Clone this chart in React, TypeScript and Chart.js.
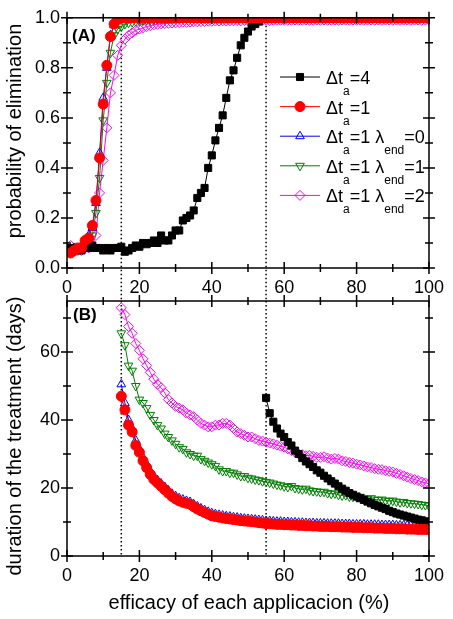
import React, { useEffect, useRef } from 'react';
import { Chart, registerables } from 'chart.js';

Chart.register(...registerables);

const FONT = '"Liberation Sans", Arial, sans-serif';

// ---------- data ----------
const effA = [1,2,3,4,5,6,7,8,9,10,11,12,13,14,15,16,17,18,19,20,21,22,23,24,25,26,27,28,29,30,31,32,33,34,35,36,37,38,39,40,41,42,43,44,45,46,47,48,49,50,51,52,53,54,55,56,57,58,59,60,61,62,63,64,65,66,67,68,69,70,71,72,73,74,75,76,77,78,79,80,81,82,83,84,85,86,87,88,89,90,91,92,93,94,95,96,97,98,99,100];
const effB1 = effA.slice(14); // 15..100
const effB4 = effA.slice(54); // 55..100

// panel A: probability of elimination
const elimDt4 = [
  0.08,0.07,0.08,0.07,0.08,0.08,0.09,0.08,0.08,0.07,
  0.08,0.07,0.08,0.08,0.085,0.065,0.07,0.08,0.09,0.085,
  0.1,0.095,0.1,0.11,0.1,0.13,0.11,0.11,0.13,0.15,
  0.15,0.19,0.2,0.21,0.23,0.28,0.3,0.32,0.4,0.45,
  0.51,0.56,0.61,0.68,0.75,0.79,0.84,0.89,0.92,0.945,
  0.965,0.975,0.985,0.995,1,1,1,1,1,1,
  1,1,1,1,1,1,1,1,1,1,
  1,1,1,1,1,1,1,1,1,1,
  1,1,1,1,1,1,1,1,1,1,
  1,1,1,1,1,1,1,1,1,1,
];
const elimDt1 = [
  0.06,0.07,0.08,0.08,0.11,0.12,0.17,0.27,0.44,0.655,
  0.81,0.925,0.975,0.995,1,1,1,1,1,1,
  1,1,1,1,1,1,1,1,1,1,
  1,1,1,1,1,1,1,1,1,1,
  1,1,1,1,1,1,1,1,1,1,
  1,1,1,1,1,1,1,1,1,1,
  1,1,1,1,1,1,1,1,1,1,
  1,1,1,1,1,1,1,1,1,1,
  1,1,1,1,1,1,1,1,1,1,
  1,1,1,1,1,1,1,1,1,1,
];
const elimL0 = [
  0.07,0.08,0.07,0.09,0.1,0.13,0.16,0.26,0.46,0.68,
  0.8,0.93,0.97,0.99,1,1,1,1,1,1,
  1,1,1,1,1,1,1,1,1,1,
  1,1,1,1,1,1,1,1,1,1,
  1,1,1,1,1,1,1,1,1,1,
  1,1,1,1,1,1,1,1,1,1,
  1,1,1,1,1,1,1,1,1,1,
  1,1,1,1,1,1,1,1,1,1,
  1,1,1,1,1,1,1,1,1,1,
  1,1,1,1,1,1,1,1,1,1,
];
const elimL1 = [
  0.08,0.07,0.08,0.08,0.09,0.1,0.13,0.22,0.36,0.59,
  0.74,0.86,0.93,0.955,0.965,0.975,0.98,0.983,0.986,0.988,
  0.99,0.99,0.992,0.993,0.995,0.996,0.997,0.998,0.998,1,
  1,1,1,1,1,1,1,1,1,1,
  1,1,1,1,1,1,1,1,1,1,
  1,1,1,1,1,1,1,1,1,1,
  1,1,1,1,1,1,1,1,1,1,
  1,1,1,1,1,1,1,1,1,1,
  1,1,1,1,1,1,1,1,1,1,
  1,1,1,1,1,1,1,1,1,1,
];
const elimL2 = [
  0.09,0.08,0.07,0.07,0.08,0.08,0.09,0.13,0.3,0.43,
  0.56,0.7,0.77,0.85,0.89,0.915,0.93,0.94,0.95,0.955,
  0.96,0.965,0.968,0.972,0.974,0.976,0.977,0.978,0.979,0.98,
  0.981,0.982,0.982,0.983,0.984,0.984,0.985,0.985,0.986,0.986,
  0.987,0.987,0.988,0.987,0.988,0.988,0.989,0.988,0.989,0.989,
  0.989,0.99,0.989,0.99,0.99,0.989,0.99,0.99,0.99,0.99,
  0.99,0.99,0.991,0.99,0.99,0.991,0.99,0.99,0.991,0.99,
  0.991,0.99,0.99,0.991,0.99,0.991,0.991,0.99,0.991,0.99,
  0.991,0.99,0.991,0.991,0.99,0.991,0.99,0.991,0.991,0.99,
  0.991,0.99,0.991,0.991,0.99,0.991,0.991,0.99,0.991,0.991,
];

// panel B: duration of the treatment (days)
const durDt1 = [
  47,43,38.5,36.5,32.5,30.5,28,26,24,22.5,
  21.5,20.5,19.5,18.5,17.5,16.8,16.2,15.8,15.5,15.2,
  14.5,13.8,13.3,12.8,12.3,11.8,11.6,11.4,11.2,11,
  10.9,10.7,10.6,10.4,10.3,10.2,10.1,10,9.8,9.7,
  9.5,9.5,9.4,9.3,9.3,9.2,9.2,9.1,9.1,9,
  9,8.9,8.9,8.8,8.8,8.7,8.7,8.7,8.6,8.6,
  8.6,8.5,8.5,8.5,8.4,8.4,8.4,8.3,8.3,8.3,
  8.2,8.2,8.2,8.1,8.1,8.1,8.0,8.0,8.0,7.9,
  7.9,7.9,7.8,7.8,7.8,7.7,
];
const durL0 = [
  50.5,45,40,37.5,34,31.5,29,27,25,23.5,
  22.3,21.3,20.3,19.3,18.3,17.6,17,16.6,16.2,15.9,
  15.2,14.6,14,13.5,13,12.6,12.3,12.1,11.9,11.7,
  11.6,11.4,11.3,11.1,11,10.9,10.8,10.7,10.6,10.5,
  10.3,10.3,10.2,10.1,10.1,10,10,9.9,9.9,9.8,
  9.8,9.7,9.7,9.7,9.6,9.6,9.6,9.5,9.5,9.5,
  9.5,9.4,9.4,9.4,9.3,9.3,9.3,9.3,9.2,9.2,
  9.2,9.2,9.1,9.1,9.1,9.1,9.0,9.0,9.0,9.0,
  9.0,8.9,8.9,8.9,8.9,8.8,
];
const durL1 = [
  65.5,62,56,54.5,50,46,45,43.5,41.5,40,
  38.5,37.5,36,35,34,33,32,31.5,30.5,30,
  29.5,29.5,28.5,28,27.5,27,26.5,25.5,25,25,
  24.5,24.5,24,23.5,23.5,23,22.8,22.5,22.3,22,
  21.8,21.6,21.3,21,20.8,20.5,20.3,20.6,20,19.8,
  19.6,19.8,19.3,19.1,19,18.8,18.9,18.5,18.3,18.4,
  18,17.8,17.9,17.5,17.4,17.3,17.4,17,16.8,17,
  16.6,16.5,16.6,16.3,16.2,16.3,16,15.8,15.9,15.6,
  15.5,15.4,15.3,15.1,15,14.8,
];
const durL2 = [
  73,71,67.5,65.5,62.5,60.5,58,56,54,52,
  50.5,49.5,48,46,45,44,43.5,43,42,41.5,
  41,40,39,38.5,38,38,38.5,38.5,39,39,
  38.5,37.5,36.5,36,35.5,35,35,34.5,34,33.8,
  33.5,33.2,33,32.6,32.3,32,31.5,31,30.5,30,
  29.8,29.5,29.6,29.3,29,29,29.2,28.8,28.5,28.7,
  28.5,28,27.8,27.5,27.3,27,26.8,26.5,26.2,26,
  25.7,25.5,25.4,25.1,24.9,24.7,24.3,24,23.6,23.2,
  22.8,22.5,22.2,21.8,21.5,21.3,
];
const durDt4 = [
  46.5,42,39.5,37.5,36,35,33.5,32.5,31,30,
  28.8,27.8,27,26.2,25.2,24.5,23.6,22.8,22,21.3,
  20.5,19.8,19.2,18.5,18,17.5,17,16.5,16,15.5,
  15,14.6,14.2,13.8,13.3,12.9,12.5,12.2,11.9,11.6,
  11.3,11,10.7,10.5,10.2,10,
];

// ticks
const xMajor = [0, 20, 40, 60, 80, 100];
const xMinor = [10, 30, 50, 70, 90];
const probMajor = [0, 0.2, 0.4, 0.6, 0.8, 1.0];
const probMinor = [0.1, 0.3, 0.5, 0.7, 0.9];
const durMajor = [0, 20, 40, 60];
const durMinor = [10, 30, 50, 70];
const guideX = [15, 55];

// series styles
const C_BLACK = '#000000';
const C_RED = '#ff0000';
const C_BLUE = '#0000ff';
const C_GREEN = '#008000';
const C_MAG = '#ff00ff';

type Seg = [string, number];
const legendItems: { color: string; style: string; filled: boolean; rot: number; text: Seg[] }[] = [
  { color: C_BLACK, style: 'rect', filled: true, rot: 0, text: [['Δt', 0], ['a', 1], ['=4', 0]] },
  { color: C_RED, style: 'circle', filled: true, rot: 0, text: [['Δt', 0], ['a', 1], ['=1', 0]] },
  { color: C_BLUE, style: 'triangle', filled: false, rot: 0, text: [['Δt', 0], ['a', 1], ['=1 λ', 0], ['end', 1], ['=0', 0]] },
  { color: C_GREEN, style: 'triangle', filled: false, rot: 180, text: [['Δt', 0], ['a', 1], ['=1 λ', 0], ['end', 1], ['=1', 0]] },
  { color: C_MAG, style: 'rectRot', filled: false, rot: 0, text: [['Δt', 0], ['a', 1], ['=1 λ', 0], ['end', 1], ['=2', 0]] },
];

function series(xs: number[], ys: number[], color: string, style: string, filled: boolean, rot: number, order: number) {
  return {
    data: xs.map((x, i) => ({ x, y: ys[i] })),
    borderColor: color,
    backgroundColor: color,
    borderWidth: 1,
    pointStyle: style,
    pointRadius: 5,
    pointRotation: rot,
    pointBorderColor: color,
    pointBackgroundColor: filled ? color : 'rgba(0,0,0,0)',
    pointBorderWidth: 1,
    tension: 0,
    order,
  };
}

function drawMarker(ctx: CanvasRenderingContext2D, style: string, x: number, y: number, r: number, color: string, filled: boolean, rot: number) {
  ctx.save();
  ctx.beginPath();
  if (style === 'circle') {
    ctx.arc(x, y, r, 0, Math.PI * 2);
  } else if (style === 'rect') {
    const s = r * Math.SQRT1_2;
    ctx.rect(x - s, y - s, 2 * s, 2 * s);
  } else if (style === 'rectRot') {
    ctx.moveTo(x, y - r);
    ctx.lineTo(x + r, y);
    ctx.lineTo(x, y + r);
    ctx.lineTo(x - r, y);
    ctx.closePath();
  } else {
    let a = (rot * Math.PI) / 180;
    ctx.moveTo(x + Math.sin(a) * r, y - Math.cos(a) * r);
    a += (2 * Math.PI) / 3;
    ctx.lineTo(x + Math.sin(a) * r, y - Math.cos(a) * r);
    a += (2 * Math.PI) / 3;
    ctx.lineTo(x + Math.sin(a) * r, y - Math.cos(a) * r);
    ctx.closePath();
  }
  if (filled) {
    ctx.fillStyle = color;
    ctx.fill();
  }
  ctx.strokeStyle = color;
  ctx.lineWidth = 1;
  ctx.stroke();
  ctx.restore();
}

function drawFrame(chart: any, yMajor: number[], yMinor: number[]) {
  const { ctx, chartArea } = chart;
  const { left, right, top, bottom } = chartArea;
  const xs = chart.scales.x;
  const ys = chart.scales.y;
  ctx.save();
  ctx.strokeStyle = '#000';
  ctx.lineWidth = 1.5;
  ctx.strokeRect(left, top, right - left, bottom - top);
  ctx.beginPath();
  const vt = (px: number, len: number) => {
    ctx.moveTo(px, bottom - len); ctx.lineTo(px, bottom + len);
    ctx.moveTo(px, top - len); ctx.lineTo(px, top + len);
  };
  const ht = (py: number, len: number) => {
    ctx.moveTo(left - len, py); ctx.lineTo(left + len, py);
    ctx.moveTo(right - len, py); ctx.lineTo(right + len, py);
  };
  xMajor.forEach((v) => vt(xs.getPixelForValue(v), 6));
  xMinor.forEach((v) => vt(xs.getPixelForValue(v), 4));
  yMajor.forEach((v) => ht(ys.getPixelForValue(v), 6));
  yMinor.forEach((v) => ht(ys.getPixelForValue(v), 4));
  ctx.stroke();
  ctx.restore();
}

function drawGuides(chart: any, y0: number, y1: number) {
  const { ctx } = chart;
  const xs = chart.scales.x;
  ctx.save();
  ctx.strokeStyle = '#000';
  ctx.lineWidth = 1.5;
  ctx.setLineDash([1.5, 2.5]);
  ctx.beginPath();
  guideX.forEach((v) => {
    const px = xs.getPixelForValue(v);
    ctx.moveTo(px, y0);
    ctx.lineTo(px, y1);
  });
  ctx.stroke();
  ctx.restore();
}

function drawYTitle(ctx: CanvasRenderingContext2D, text: string, x: number, cy: number) {
  ctx.save();
  ctx.translate(x, cy);
  ctx.rotate(-Math.PI / 2);
  ctx.font = `20px ${FONT}`;
  ctx.fillStyle = '#000';
  ctx.textAlign = 'center';
  ctx.textBaseline = 'alphabetic';
  ctx.fillText(text, 0, 0);
  ctx.restore();
}

function drawPanelLabel(ctx: CanvasRenderingContext2D, text: string, x: number, y: number) {
  ctx.save();
  ctx.font = `bold 17px ${FONT}`;
  ctx.fillStyle = '#000';
  ctx.textAlign = 'left';
  ctx.textBaseline = 'alphabetic';
  ctx.fillText(text, x, y);
  ctx.restore();
}

function drawLegend(ctx: CanvasRenderingContext2D) {
  const lx0 = 280, lx1 = 320, mx = 300, tx = 326, y0 = 77, gap = 29.6;
  legendItems.forEach((it, i) => {
    const y = y0 + i * gap;
    ctx.save();
    ctx.strokeStyle = it.color;
    ctx.lineWidth = 1;
    ctx.beginPath();
    ctx.moveTo(lx0, y);
    ctx.lineTo(lx1, y);
    ctx.stroke();
    ctx.restore();
    drawMarker(ctx, it.style, mx, y, 5, it.color, it.filled, it.rot);
    let x = tx;
    ctx.save();
    ctx.fillStyle = '#000';
    ctx.textAlign = 'left';
    ctx.textBaseline = 'alphabetic';
    it.text.forEach(([t, sub]) => {
      ctx.font = sub ? `12px ${FONT}` : `18px ${FONT}`;
      ctx.fillText(t, x, sub ? y + 18 : y + 7);
      x += ctx.measureText(t).width;
    });
    ctx.restore();
  });
}

function baseScales(yMin: number, yMax: number, yTicks: number[], xHeight: number, fmt: (v: number) => string) {
  const tickFont = { size: 18, family: FONT };
  return {
    x: {
      type: 'linear',
      min: 0,
      max: 100,
      afterFit: (s: any) => { s.height = xHeight; },
      afterBuildTicks: (s: any) => { s.ticks = xMajor.map((v) => ({ value: v })); },
      grid: { display: false, drawTicks: false },
      border: { display: false },
      ticks: { padding: 9, color: '#000', font: tickFont, maxRotation: 0, autoSkip: false },
    },
    y: {
      type: 'linear',
      min: yMin,
      max: yMax,
      afterFit: (s: any) => { s.width = 67; },
      afterBuildTicks: (s: any) => { s.ticks = yTicks.map((v) => ({ value: v })); },
      grid: { display: false, drawTicks: false },
      border: { display: false },
      ticks: { padding: 7, color: '#000', font: tickFont, autoSkip: false, callback: (v: any) => fmt(Number(v)) },
    },
  };
}

export default function App() {
  const refA = useRef<HTMLCanvasElement>(null);
  const refB = useRef<HTMLCanvasElement>(null);

  useEffect(() => {
    const chartA = new Chart(refA.current as HTMLCanvasElement, {
      type: 'line',
      data: {
        datasets: [
          series(effA, elimDt1, C_RED, 'circle', true, 0, 0),
          series(effA, elimDt4, C_BLACK, 'rect', true, 0, 1),
          series(effA, elimL0, C_BLUE, 'triangle', false, 0, 2),
          series(effA, elimL1, C_GREEN, 'triangle', false, 180, 3),
          series(effA, elimL2, C_MAG, 'rectRot', false, 0, 4),
        ] as any,
      },
      options: {
        animation: false,
        responsive: false,
        maintainAspectRatio: false,
        events: [],
        layout: { padding: { top: 12, right: 20, left: 0, bottom: 0 } },
        plugins: { legend: { display: false }, tooltip: { enabled: false } },
        scales: baseScales(0, 1, probMajor, 33, (v) => v.toFixed(1)) as any,
      },
      plugins: [
        {
          id: 'decorA',
          beforeDatasetsDraw(chart: any) {
            drawGuides(chart, chart.chartArea.top, chart.height);
          },
          afterDraw(chart: any) {
            const ctx = chart.ctx;
            drawFrame(chart, probMajor, probMinor);
            drawPanelLabel(ctx, '(A)', chart.chartArea.left + 5, chart.chartArea.top + 23);
            drawYTitle(ctx, 'probability of elimination', 21, 131);
            drawLegend(ctx);
          },
        },
      ],
    });

    const chartB = new Chart(refB.current as HTMLCanvasElement, {
      type: 'line',
      data: {
        datasets: [
          series(effB1, durDt1, C_RED, 'circle', true, 0, 0),
          series(effB4, durDt4, C_BLACK, 'rect', true, 0, 1),
          series(effB1, durL0, C_BLUE, 'triangle', false, 0, 2),
          series(effB1, durL1, C_GREEN, 'triangle', false, 180, 3),
          series(effB1, durL2, C_MAG, 'rectRot', false, 0, 4),
        ] as any,
      },
      options: {
        animation: false,
        responsive: false,
        maintainAspectRatio: false,
        events: [],
        layout: { padding: { top: 21, right: 20, left: 0, bottom: 0 } },
        plugins: { legend: { display: false }, tooltip: { enabled: false } },
        scales: baseScales(0, 75, durMajor, 63, (v) => String(v)) as any,
      },
      plugins: [
        {
          id: 'decorB',
          beforeDatasetsDraw(chart: any) {
            drawGuides(chart, chart.chartArea.top, chart.chartArea.bottom);
          },
          afterDraw(chart: any) {
            const ctx = chart.ctx;
            drawFrame(chart, durMajor, durMinor);
            drawPanelLabel(ctx, '(B)', chart.chartArea.left + 6, chart.chartArea.top + 19);
            drawYTitle(ctx, 'duration of the treatment (days)', 21, 156);
            ctx.save();
            ctx.font = `20px ${FONT}`;
            ctx.fillStyle = '#000';
            ctx.textAlign = 'center';
            ctx.textBaseline = 'alphabetic';
            ctx.fillText('efficacy of each applicacion (%)', 249, 329);
            ctx.restore();
          },
        },
      ],
    });

    return () => {
      chartA.destroy();
      chartB.destroy();
    };
  }, []);

  return (
    <div style={{ position: 'absolute', left: 0, top: 0, width: 453, height: 619, background: '#fff', overflow: 'hidden' }}>
      <canvas ref={refA} width={453} height={301} style={{ position: 'absolute', left: 0, top: 0 }} />
      <canvas ref={refB} width={453} height={339} style={{ position: 'absolute', left: 0, top: 280 }} />
    </div>
  );
}
